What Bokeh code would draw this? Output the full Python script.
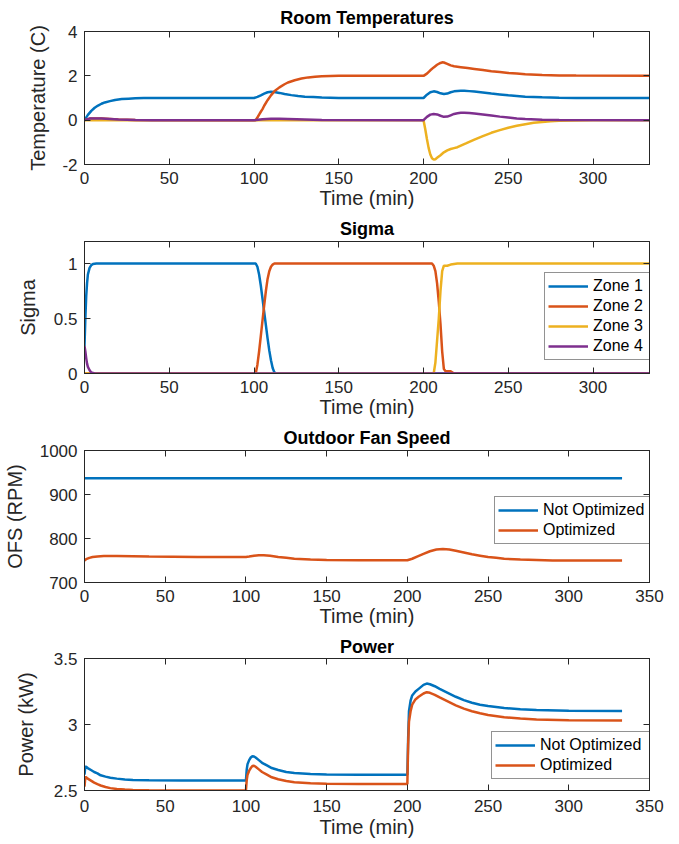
from bokeh.plotting import figure
from bokeh.layouts import column
from bokeh.models import (LinearAxis, Legend, LegendItem, FixedTicker, Range1d,
                          CustomLabelingPolicy)
from bokeh.embed import file_html
from bokeh.resources import INLINE

# ---------------- data ----------------
# Room temperatures (deviation, C)
t_z1 = [0, 2, 4, 6, 8, 10, 12, 15, 18, 22, 26, 30, 35, 40,
        100, 102, 104, 106, 108, 110, 112, 115, 118, 122, 126, 130, 135, 140, 150,
        200, 202, 204, 206, 208, 210, 212, 214, 216, 218, 220, 222, 224, 227, 230,
        235, 240, 245, 250, 255, 260, 270, 280, 290, 333.3]
temp_z1 = [0, 0.24, 0.42, 0.56, 0.66, 0.74, 0.8, 0.86, 0.91, 0.95, 0.97, 0.985, 0.995, 1.0,
           1.0, 1.05, 1.12, 1.2, 1.26, 1.28, 1.27, 1.23, 1.18, 1.13, 1.09, 1.06, 1.04, 1.02, 1.005,
           1.0, 1.15, 1.26, 1.3, 1.27, 1.21, 1.18, 1.2, 1.26, 1.3, 1.32, 1.33, 1.33, 1.31, 1.29,
           1.25, 1.2, 1.16, 1.12, 1.09, 1.06, 1.03, 1.01, 1.0, 1.0]

t_z2 = [0, 3, 6, 10, 15, 20, 30,
        101, 102, 103, 104, 105, 106, 108, 110, 112, 115, 118, 120, 124, 128, 132, 136, 140, 150,
        200, 202, 204, 206, 208, 210, 211, 212, 214, 216, 218, 222, 226, 230, 235, 240, 245,
        250, 255, 260, 270, 280, 290, 333.3]
temp_z2 = [0, 0.07, 0.08, 0.07, 0.05, 0.03, 0.01,
           0, 0.12, 0.25, 0.38, 0.5, 0.65, 0.9, 1.12, 1.3, 1.48, 1.62, 1.7, 1.8, 1.88, 1.93, 1.96, 1.98, 2.0,
           2.0, 2.1, 2.25, 2.38, 2.5, 2.58, 2.61, 2.6, 2.54, 2.47, 2.43, 2.39, 2.35, 2.31, 2.26, 2.21, 2.17,
           2.13, 2.1, 2.07, 2.04, 2.02, 2.01, 2.0]

t_z3 = [0, 200, 201, 202, 203, 204, 205, 206, 207, 208,
        210, 212, 214, 216, 218, 220, 222, 225,
        230, 235, 240, 245, 250, 255, 260, 265, 270, 275, 280, 290, 300, 333.3]
temp_z3 = [0, 0, -0.4, -0.85, -1.25, -1.55, -1.72, -1.78, -1.76, -1.7,
           -1.58, -1.45, -1.36, -1.3, -1.26, -1.22, -1.15, -1.05,
           -0.88, -0.72, -0.57, -0.45, -0.34, -0.25, -0.18, -0.12, -0.08, -0.05, -0.03, -0.01, 0, 0]

t_z4 = [0, 3, 6, 10, 15, 20, 30, 40,
        100, 105, 110, 115, 120, 130, 140,
        200, 202, 204, 206, 208, 210, 212, 214, 216, 218, 220, 222, 224, 227, 230,
        235, 240, 245, 250, 255, 260, 270, 280, 333.3]
temp_z4 = [0, 0.07, 0.08, 0.07, 0.05, 0.03, 0.01, 0.0,
           0.0, 0.04, 0.06, 0.06, 0.05, 0.03, 0.01,
           0.0, 0.15, 0.25, 0.28, 0.26, 0.2, 0.15, 0.16, 0.22, 0.28, 0.31, 0.33, 0.33, 0.32, 0.3,
           0.26, 0.21, 0.16, 0.12, 0.08, 0.05, 0.02, 0.01, 0.0]

# Sigma
s_t1 = [0, 0.5, 1, 1.5, 2, 3, 4, 5, 7, 10,
        101, 102, 103, 104, 105, 106, 107, 108, 109, 110, 111, 112, 113, 333.3]
sig_z1 = [0.25, 0.5, 0.7, 0.82, 0.9, 0.96, 0.985, 0.995, 1.0, 1.0,
          1.0, 0.97, 0.9, 0.8, 0.68, 0.56, 0.44, 0.32, 0.21, 0.12, 0.05, 0.01, 0, 0]
s_t2 = [0, 101, 102, 103, 104, 105, 106, 107, 108, 109, 110, 111, 112,
        205, 206, 207, 208, 209, 210, 211, 212, 213, 216, 218, 333.3]
sig_z2 = [0, 0, 0.08, 0.2, 0.34, 0.48, 0.62, 0.75, 0.86, 0.93, 0.97, 0.99, 1.0,
          1.0, 0.98, 0.93, 0.82, 0.65, 0.45, 0.2, 0.04, 0.02, 0.02, 0, 0]
s_t3 = [0, 206, 207, 208, 209, 210, 211, 212, 214, 216, 220, 333.3]
sig_z3 = [0, 0, 0.1, 0.3, 0.5, 0.75, 0.93, 0.98, 0.98, 0.99, 1.0, 1.0]
s_t4 = [0, 0.5, 1, 1.5, 2, 3, 4, 6, 333.3]
sig_z4 = [0.25, 0.2, 0.14, 0.09, 0.06, 0.03, 0.01, 0, 0]

# Outdoor fan speed (RPM)
f_t_nonopt = [0, 333]
ofs_nonopt = [937, 937]
f_t_opt = [0, 1, 3, 5, 8, 12, 20, 40, 70, 100,
           102, 105, 108, 111, 115, 120, 125, 130, 140, 150, 170,
           200, 203, 206, 210, 214, 218, 222, 226, 230, 235, 240, 245, 250, 255, 260,
           270, 280, 290, 300, 333]
ofs_opt = [750, 753, 756, 758, 759, 760, 760, 759, 758, 758,
           759, 761, 762, 762, 761, 758, 756, 754, 752, 751, 750.5,
           750.5, 754, 759, 765, 771, 775, 776, 775, 772, 768, 764, 761, 758, 756, 754,
           752, 751, 750, 750, 750]

# Power (kW)
p_t = [0, 0.5, 1, 2, 4, 6, 8, 10, 13, 16, 20, 25, 30, 40, 60, 100,
       100.5, 101, 102, 103, 104, 105, 106, 108, 110, 113, 116, 120, 125, 130, 140, 150, 170, 200,
       200.5, 201, 202, 203, 205, 207, 210, 212, 214, 217, 220, 225, 230, 235, 240, 245, 250,
       260, 270, 280, 300, 333]
pow_nonopt = [2.62, 2.68, 2.68, 2.67, 2.655, 2.64, 2.63, 2.615, 2.605, 2.597, 2.59, 2.584, 2.58,
              2.577, 2.575, 2.575,
              2.66, 2.7, 2.73, 2.75, 2.76, 2.758, 2.75, 2.73, 2.71, 2.69, 2.67, 2.655, 2.64, 2.632,
              2.625, 2.622, 2.62, 2.62,
              2.9, 3.1, 3.18, 3.22, 3.25, 3.27, 3.3, 3.31, 3.305, 3.29, 3.27, 3.24, 3.21, 3.185,
              3.165, 3.15, 3.14, 3.125, 3.115, 3.11, 3.105, 3.103]
pow_opt = [2.53, 2.6, 2.6, 2.59, 2.575, 2.56, 2.548, 2.538, 2.527, 2.518, 2.512, 2.507, 2.504,
           2.502, 2.5, 2.5,
           2.58, 2.62, 2.65, 2.67, 2.685, 2.688, 2.68, 2.66, 2.64, 2.62, 2.6, 2.585, 2.572, 2.563,
           2.555, 2.552, 2.55, 2.55,
           2.85, 3.02, 3.1, 3.15, 3.19, 3.21, 3.235, 3.245, 3.24, 3.225, 3.205, 3.175, 3.145, 3.12,
           3.1, 3.085, 3.072, 3.055, 3.045, 3.038, 3.033, 3.03]

# ticks
xticks_a = [0, 50, 100, 150, 200, 250, 300]
xticks_b = [0, 50, 100, 150, 200, 250, 300, 350]
yticks_temp = [-2, 0, 2, 4]
ylabels_temp = ["-2", "0", "2", "4"]
yticks_sig = [0, 0.5, 1]
ylabels_sig = ["0", "0.5", "1"]
yticks_ofs = [700, 800, 900, 1000]
ylabels_ofs = ["700", "800", "900", "1000"]
yticks_pow = [2.5, 3, 3.5]
ylabels_pow = ["2.5", "3", "3.5"]
zone_names = ["Zone 1", "Zone 2", "Zone 3", "Zone 4"]
opt_names = ["Not Optimized", "Optimized"]

# ---------------- styling ----------------
BLUE = "#0072BD"
ORANGE = "#D95319"
YELLOW = "#EDB120"
PURPLE = "#7E2F8E"
AX = "#262626"
FONT = "Liberation Sans"
LW = 2.5


def style_axis(ax, ticks, labels=None, show_labels=True):
    ax.ticker = FixedTicker(ticks=ticks)
    ax.axis_line_color = AX
    ax.major_tick_line_color = AX
    ax.minor_tick_line_color = None
    ax.major_tick_in = 6
    ax.major_tick_out = 0
    ax.major_label_text_font = FONT
    ax.major_label_text_font_size = "17px"
    ax.major_label_text_color = AX
    ax.axis_label_text_font = FONT
    ax.axis_label_text_font_size = "20px"
    ax.axis_label_text_font_style = "normal"
    ax.axis_label_text_color = AX
    if labels is not None:
        ax.major_label_overrides = dict(zip(ticks, labels))
    if not show_labels:
        ax.major_label_policy = CustomLabelingPolicy(code="return []")
        ax.major_label_text_font_size = "0px"
        ax.major_label_standoff = 0


def make_fig(height, top, bottom, xr, xticks, yr, yticks, ylabels, title, ylabel,
             ylab_standoff, title_standoff=5, xlab_standoffs=(7, 0)):
    p = figure(width=679, height=height, output_backend="svg", toolbar_location=None,
               x_range=Range1d(*xr), y_range=Range1d(*yr),
               min_border_left=80, min_border_right=30,
               min_border_top=top, min_border_bottom=bottom,
               x_axis_label="Time (min)", y_axis_label=ylabel)
    p.xgrid.visible = False
    p.ygrid.visible = False
    p.outline_line_color = AX
    p.outline_line_width = 1
    p.background_fill_color = "white"
    p.border_fill_color = "white"
    p.title.text = title
    p.title.align = "center"
    p.title.text_font = FONT
    p.title.text_font_size = "18px"
    p.title.text_font_style = "bold"
    p.title.text_color = "black"
    p.title.standoff = title_standoff
    bx = p.below[0]
    style_axis(bx, xticks)
    bx.major_label_standoff = xlab_standoffs[0]
    bx.axis_label_standoff = xlab_standoffs[1]
    ly = p.left[0]
    style_axis(ly, yticks, ylabels)
    ly.major_label_standoff = 7
    ly.axis_label_standoff = ylab_standoff
    tx = LinearAxis()
    style_axis(tx, xticks, show_labels=False)
    ry = LinearAxis()
    style_axis(ry, yticks, show_labels=False)
    p.add_layout(tx, "above")
    p.add_layout(ry, "right")
    return p


def make_legend(items, loc, label_width):
    lg = Legend(items=items, location=loc)
    lg.border_line_color = AX
    lg.border_line_width = 1
    lg.background_fill_color = "white"
    lg.background_fill_alpha = 1
    lg.label_text_font = FONT
    lg.label_text_font_size = "16px"
    lg.label_text_color = "black"
    lg.glyph_width = 40
    lg.glyph_height = 20
    lg.label_height = 20
    lg.label_width = label_width
    lg.label_standoff = 5
    lg.padding = 3
    lg.spacing = 0
    lg.margin = 0
    return lg


# Plot 1: room temperatures
p1 = make_fig(214, 31, 50, (0, 333.3), xticks_a, (-2, 4), yticks_temp, ylabels_temp,
              "Room Temperatures", "Temperature (C)", 10, title_standoff=7)
p1.line(t_z1, temp_z1, color=BLUE, line_width=LW)
p1.line(t_z2, temp_z2, color=ORANGE, line_width=LW)
p1.line(t_z3, temp_z3, color=YELLOW, line_width=LW)
p1.line(t_z4, temp_z4, color=PURPLE, line_width=LW)

# Plot 2: sigma
p2 = make_fig(209, 25, 50, (0, 333.3), xticks_a, (0, 1.2), yticks_sig, ylabels_sig,
              "Sigma", "Sigma", 12)
r21 = p2.line(s_t1, sig_z1, color=BLUE, line_width=LW)
r22 = p2.line(s_t2, sig_z2, color=ORANGE, line_width=LW)
r23 = p2.line(s_t3, sig_z3, color=YELLOW, line_width=LW)
r24 = p2.line(s_t4, sig_z4, color=PURPLE, line_width=LW)
p2.add_layout(make_legend([LegendItem(label=n, renderers=[r])
                           for n, r in zip(zone_names, [r21, r22, r23, r24])], (460, 13), 55))

# Plot 3: outdoor fan speed
p3 = make_fig(209, 25, 50, (0, 350), xticks_b, (700, 1000), yticks_ofs, ylabels_ofs,
              "Outdoor Fan Speed", "OFS (RPM)", 11)
r31 = p3.line(f_t_nonopt, ofs_nonopt, color=BLUE, line_width=LW)
r32 = p3.line(f_t_opt, ofs_opt, color=ORANGE, line_width=LW)
p3.add_layout(make_legend([LegendItem(label=n, renderers=[r])
                           for n, r in zip(opt_names, [r31, r32])], (410, 38), 110))

# Plot 4: power
p4 = make_fig(212, 24, 54, (0, 350), xticks_b, (2.5, 3.5), yticks_pow, ylabels_pow,
              "Power", "Power (kW)", 14, title_standoff=4, xlab_standoffs=(9, 1))
r41 = p4.line(p_t, pow_nonopt, color=BLUE, line_width=LW)
r42 = p4.line(p_t, pow_opt, color=ORANGE, line_width=LW)
p4.add_layout(make_legend([LegendItem(label=n, renderers=[r])
                           for n, r in zip(opt_names, [r41, r42])], (407, 11), 112))

layout = column(p1, p2, p3, p4, spacing=0)
open("out.html", "w").write(file_html(layout, INLINE))
